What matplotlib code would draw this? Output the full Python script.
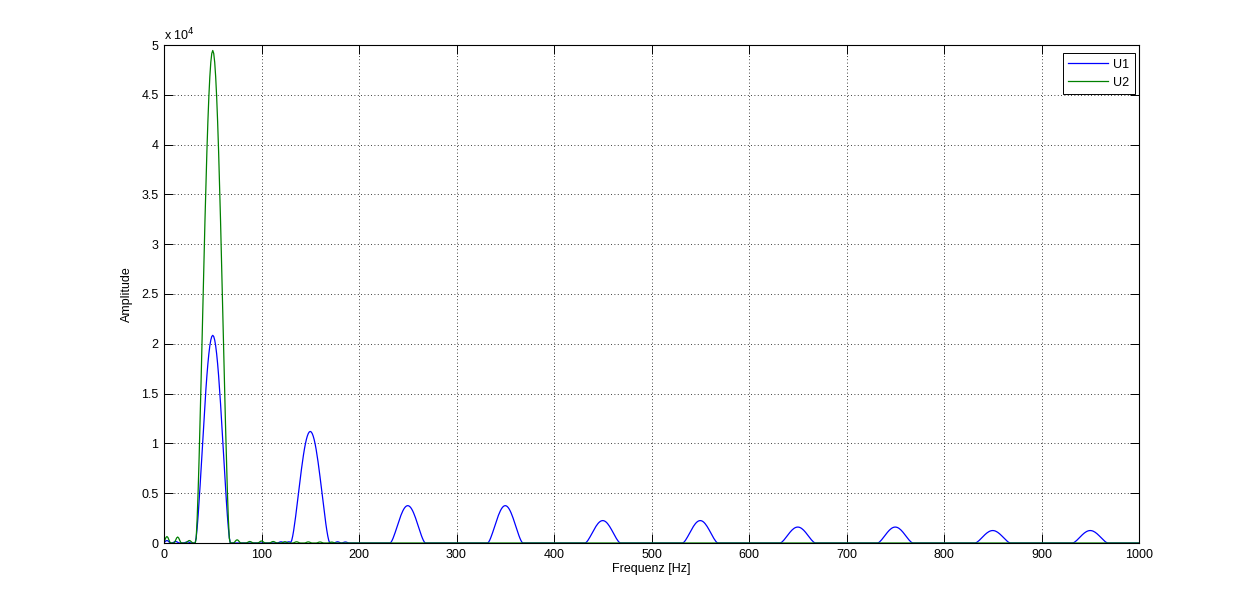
import numpy as np
import matplotlib
matplotlib.use("Agg")
import matplotlib.pyplot as plt
from matplotlib.ticker import FuncFormatter, MultipleLocator

# ---- data (peak centres [Hz], amplitudes, lobe half-widths [Hz]) ----
u1_peak_freqs = [50, 150, 250, 350, 450, 550, 650, 750, 850, 950]
u1_peak_amps = [20850, 11200, 3750, 3750, 2250, 2250, 1600, 1600, 1250, 1250]
u1_peak_widths = [18, 20, 18, 18, 18, 18, 18, 18, 18, 18]
u1_ripple_freqs = [3, 12, 24, 120, 128, 178, 186]
u1_ripple_amps = [250, 150, 120, 120, 120, 120, 100]

u2_peak_freqs = [50]
u2_peak_amps = [49450]
u2_peak_widths = [17.5]
u2_ripple_freqs = [3, 14, 26, 75, 88, 100, 112, 124, 136, 148, 160, 172]
u2_ripple_amps = [650, 600, 250, 320, 150, 200, 150, 130, 120, 110, 100, 90]

x_ticks = [0, 100, 200, 300, 400, 500, 600, 700, 800, 900, 1000]
series_labels = ["U1", "U2"]
x_label = "Frequenz [Hz]"
y_label = "Amplitude"

# ---- render spectrum lobes from the peak tables ----
freq = np.arange(0, 1000.5, 1.0)
RIPPLE_HALF_WIDTH = 4.0


def lobes(centres, amps, widths, power=1.5):
    out = np.zeros_like(freq)
    for c, a, hw in zip(centres, amps, widths):
        d = np.abs(freq - c)
        m = d < hw
        out[m] += a * np.cos(np.pi * d[m] / (2 * hw)) ** power
    return out


u1 = lobes(u1_peak_freqs, u1_peak_amps, u1_peak_widths) + \
    lobes(u1_ripple_freqs, u1_ripple_amps,
          [RIPPLE_HALF_WIDTH] * len(u1_ripple_freqs), 2)
u2 = lobes(u2_peak_freqs, u2_peak_amps, u2_peak_widths) + \
    lobes(u2_ripple_freqs, u2_ripple_amps,
          [RIPPLE_HALF_WIDTH] * len(u2_ripple_freqs), 2)

plt.rcParams["font.family"] = ["Liberation Sans", "DejaVu Sans"]
plt.rcParams["font.size"] = 9

fig = plt.figure(figsize=(12.59, 6.10), dpi=100)
ax = fig.add_axes([164 / 1259, 67 / 610, 975 / 1259, 498 / 610])

ax.plot(freq, u1, color=(0, 0, 1), lw=0.9, label=series_labels[0])
ax.plot(freq, u2, color=(0, 0.5, 0), lw=0.9, label=series_labels[1])

ax.set_xlim(0, 1000)
ax.set_ylim(0, 50000)
ax.set_xticks(x_ticks)
ax.yaxis.set_major_locator(MultipleLocator(5000))
ax.yaxis.set_major_formatter(FuncFormatter(lambda v, p: f"{v / 1e4:g}"))

ax.grid(True, color="black", linestyle=(0, (1, 3)), linewidth=0.6)
ax.tick_params(direction="in", length=6.5, width=0.7, top=True, right=True,
               colors="black", pad=4)
for s in ax.spines.values():
    s.set_linewidth(0.8)

ax.text(0.0, 1.004, r"x 10$^{4}$", transform=ax.transAxes, ha="left",
        va="bottom", fontsize=9)

ax.set_xlabel(x_label, labelpad=2)
ax.set_ylabel(y_label, labelpad=6)

leg = ax.legend(loc="upper right", bbox_to_anchor=(0.996, 0.984),
                fancybox=False, framealpha=1, edgecolor="black",
                handlelength=3.2, borderpad=0.45, labelspacing=0.5,
                handletextpad=0.4, borderaxespad=0)
leg.get_frame().set_linewidth(0.7)

fig.savefig("out.png", dpi=100, facecolor="white")
